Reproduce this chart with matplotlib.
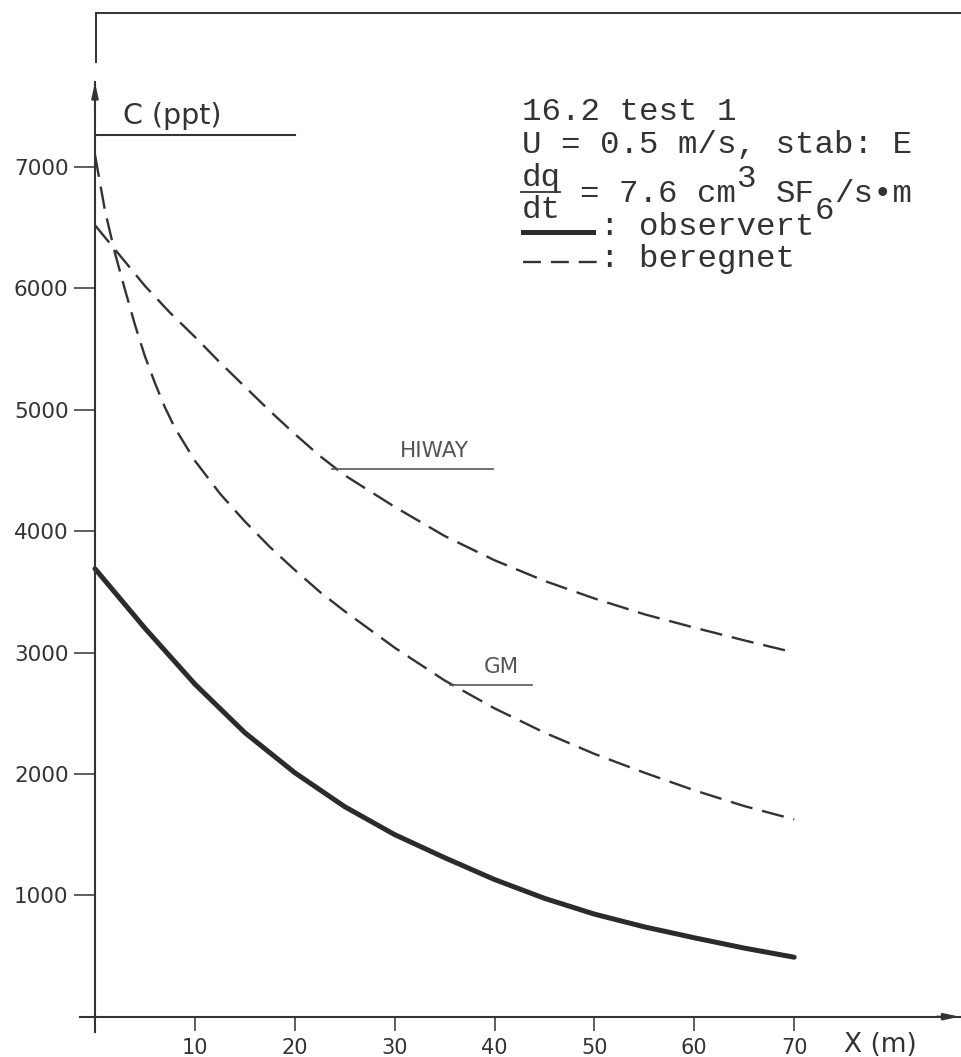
import matplotlib
matplotlib.use("Agg")
import matplotlib.pyplot as plt
from matplotlib.lines import Line2D

# distance X (m) and concentration C (ppt)
x_obs = [0, 5, 10, 15, 20, 25, 30, 35, 40, 45, 50, 55, 60, 65, 70]
c_obs = [3690, 3200, 2740, 2340, 2010, 1730, 1500, 1310, 1130, 975, 845, 740, 650, 565, 490]

x_hiway = [0, 2.5, 5, 7.5, 10, 12.5, 15, 17.5, 20, 22.5, 25, 30, 35, 40, 45, 50, 55, 60, 65, 70]
c_hiway = [6520, 6270, 6020, 5800, 5600, 5390, 5190, 4990, 4800, 4620, 4460, 4200, 3960,
           3760, 3590, 3445, 3315, 3205, 3100, 3000]

x_gm = [0, 1, 2, 3, 4, 5, 6, 7, 8, 10, 12.5, 15, 17.5, 20, 22.5, 25, 30, 35, 40, 45, 50,
        55, 60, 65, 70]
c_gm = [7100, 6640, 6290, 5990, 5700, 5440, 5220, 5020, 4850, 4580, 4310, 4080, 3870,
        3680, 3500, 3340, 3040, 2770, 2540, 2340, 2165, 2010, 1865, 1735, 1625]

x_ticks = [10, 20, 30, 40, 50, 60, 70]
y_ticks = [1000, 2000, 3000, 4000, 5000, 6000, 7000]

INK = '#333333'
W, H = 962, 1057

fig = plt.figure(figsize=(W / 100, H / 100), dpi=100)
ax = fig.add_axes([80 / W, 0, 1 - 80 / W, 1])
ax.set_xlim(-1.5, 86.8)
ax.set_ylim(-332, 8375)

# axes drawn like the hand-made original: crossing at the origin
for side in ['top', 'right']:
    ax.spines[side].set_visible(False)
ax.spines['left'].set_position(('data', 0))
ax.spines['bottom'].set_position(('data', 0))
ax.spines['left'].set_bounds(-125, 7700)
for side in ['left', 'bottom']:
    ax.spines[side].set_linewidth(1.5)
    ax.spines[side].set_color(INK)

ax.set_xticks(x_ticks)
ax.set_xticklabels([str(v) for v in x_ticks])
ax.set_yticks(y_ticks)
ax.set_yticklabels([str(v) for v in y_ticks])
ax.tick_params(axis='y', direction='out', length=15, width=1.1, pad=4,
               labelsize=15.5, colors=INK)
ax.tick_params(axis='x', direction='out', length=10, width=1.1, pad=5,
               labelsize=15, colors=INK)

# arrow heads on the axes
ax.annotate('', xy=(0, 7720), xytext=(0, 7450), annotation_clip=False,
            arrowprops=dict(arrowstyle='-|>,head_length=0.9,head_width=0.2',
                            lw=1.5, color=INK))
ax.annotate('', xy=(86.8, 0), xytext=(84.0, 0), annotation_clip=False,
            arrowprops=dict(arrowstyle='-|>,head_length=0.9,head_width=0.2',
                            lw=1.5, color=INK))

# curves
ax.plot(x_obs, c_obs, color='#2b2b2b', lw=3.6, solid_capstyle='round',
        solid_joinstyle='round')
ax.plot(x_hiway, c_hiway, color=INK, lw=1.7, dashes=(9.5, 4.2))
ax.plot(x_gm, c_gm, color=INK, lw=1.7, dashes=(9.5, 4.2))

# model labels with their leader lines
ax.plot([23.7, 39.8], [4511, 4511], color='#555555', lw=1.2)
ax.text(34.0, 4575, 'HIWAY', ha='center', va='bottom', fontsize=15.5, color='#555555')
ax.plot([35.5, 43.8], [2732, 2732], color='#555555', lw=1.2)
ax.text(40.7, 2800, 'GM', ha='center', va='bottom', fontsize=15.5, color='#555555')

# axis titles
ax.plot([0, 20], [7263, 7263], color=INK, lw=1.5, clip_on=False)
ax.text(2.8, 7353, 'C (ppt)', fontsize=20.5, color=INK, va='baseline')
ax.text(75.0, -290, 'X (m)', fontsize=19, color=INK, va='baseline', clip_on=False)


def ptxt(x, y, s, **kw):
    fig.text(x / W, 1 - y / H, s, **kw)


def pline(xs, ys, **kw):
    fig.add_artist(Line2D([v / W for v in xs], [1 - v / H for v in ys], **kw))


# frame remains from the scanned page
pline([96, 962], [13, 13], color=INK, lw=1.4)
pline([96, 96], [13, 62], color=INK, lw=1.4)

# typed legend block
mono = dict(family=['Liberation Mono', 'DejaVu Sans Mono'], fontsize=23.4,
            color=INK, va='baseline')
cw = 19.5
x0 = 522
ptxt(x0, 120, '16.2 test 1', **mono)
ptxt(x0, 153, 'U = 0.5 m/s, stab: E', **mono)
ptxt(x0, 186, 'dq', **mono)
pline([521, 560], [192, 192], color=INK, lw=1.3)
ptxt(x0, 218, 'dt', **mono)
ptxt(x0 + 3 * cw, 202, '= 7.6 cm', **mono)
ptxt(x0 + 11 * cw, 187, '3', **mono)
ptxt(x0 + 13 * cw, 202, 'SF', **mono)
ptxt(x0 + 15 * cw, 219, '6', **mono)
ptxt(x0 + 16 * cw, 202, '/s\u2022m', **mono)
pline([523, 593], [232, 232], color='#2b2b2b', lw=3.6)
ptxt(x0 + 4 * cw, 235, ': observert', **mono)
pline([523, 597], [262, 262], color=INK, lw=1.7, dashes=(7.6, 4.2))
ptxt(x0 + 4 * cw, 267, ': beregnet', **mono)

fig.savefig('out.png', dpi=100, facecolor='white')
